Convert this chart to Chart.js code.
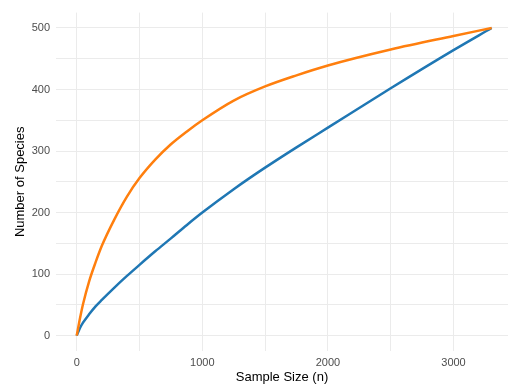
<!DOCTYPE html>
<html>
<head>
<meta charset="utf-8">
<script src="https://cdn.jsdelivr.net/npm/chart.js@4/dist/chart.umd.min.js"></script>
<style>
  html, body { margin: 0; padding: 0; background: #ffffff; }
  #wrap { width: 508px; height: 385px; }
</style>
</head>
<body>
<div id="wrap"><canvas id="chart" width="508" height="385"></canvas></div>
<script>
// Species accumulation: sample size vs. number of species, two curves
const sampleSize    = [0, 25, 50, 100, 150, 200, 300, 400, 500, 625, 750, 875, 1000, 1250, 1500, 1750, 2000, 2500, 3000, 3304];
const blueSpecies   = [0, 12, 21, 35, 47.5, 58, 78, 97, 115, 137, 158, 179.5, 200, 238, 273, 306, 338, 402, 464, 500];
const orangeSpecies = [0, 27, 51, 89, 119, 146, 189, 226, 256, 286, 311, 331.5, 350, 382, 405, 423, 439, 465, 487, 500];

const xGridValues = [0, 500, 1000, 1500, 2000, 2500, 3000];
const xTickLabels = [0, 1000, 2000, 3000];
const yGridValues = [0, 50, 100, 150, 200, 250, 300, 350, 400, 450, 500];
const yTickLabels = [0, 100, 200, 300, 400, 500];

const toPoints = (xs, ys) => xs.map((x, i) => ({ x: x, y: ys[i] }));

const tickFont = { family: "'Liberation Sans', Arial, sans-serif", size: 11 };
const titleFont = { family: "'Liberation Sans', Arial, sans-serif", size: 13 };

new Chart(document.getElementById('chart'), {
  type: 'line',
  data: {
    datasets: [
      {
        label: 'Blue',
        data: toPoints(sampleSize, blueSpecies),
        borderColor: '#1F77B4',
        borderWidth: 2.5,
        pointRadius: 0,
        fill: false,
        cubicInterpolationMode: 'monotone',
        order: 2
      },
      {
        label: 'Orange',
        data: toPoints(sampleSize, orangeSpecies),
        borderColor: '#FF7F0E',
        borderWidth: 2.5,
        pointRadius: 0,
        fill: false,
        cubicInterpolationMode: 'monotone',
        order: 1
      }
    ]
  },
  options: {
    responsive: false,
    animation: false,
    devicePixelRatio: 1,
    layout: { padding: { top: 10, right: 0, bottom: 0, left: 0 } },
    plugins: { legend: { display: false }, tooltip: { enabled: false } },
    scales: {
      x: {
        type: 'linear',
        min: -165,
        max: 3434,
        afterBuildTicks: s => { s.ticks = xGridValues.map(v => ({ value: v })); },
        afterFit: s => { s.height = 34; },
        border: { display: false },
        grid: { color: '#EBEBEB', lineWidth: 1, drawTicks: false },
        ticks: {
          padding: 5,
          color: '#4D4D4D',
          font: tickFont,
          maxRotation: 0,
          autoSkip: false,
          callback: v => (xTickLabels.includes(v) ? String(v) : '')
        },
        title: {
          display: true,
          text: 'Sample Size (n)',
          color: '#000000',
          font: titleFont,
          padding: { top: 0, bottom: 0 }
        }
      },
      y: {
        type: 'linear',
        min: -25,
        max: 525,
        afterBuildTicks: s => { s.ticks = yGridValues.map(v => ({ value: v })); },
        afterFit: s => { s.width = 56; },
        border: { display: false },
        grid: { color: '#EBEBEB', lineWidth: 1, drawTicks: false },
        ticks: {
          padding: 6,
          color: '#4D4D4D',
          font: tickFont,
          autoSkip: false,
          callback: v => (yTickLabels.includes(v) ? String(v) : '')
        },
        title: {
          display: true,
          text: 'Number of Species',
          color: '#000000',
          font: titleFont,
          padding: { top: 13, bottom: 0 }
        }
      }
    }
  }
});
</script>
</body>
</html>
